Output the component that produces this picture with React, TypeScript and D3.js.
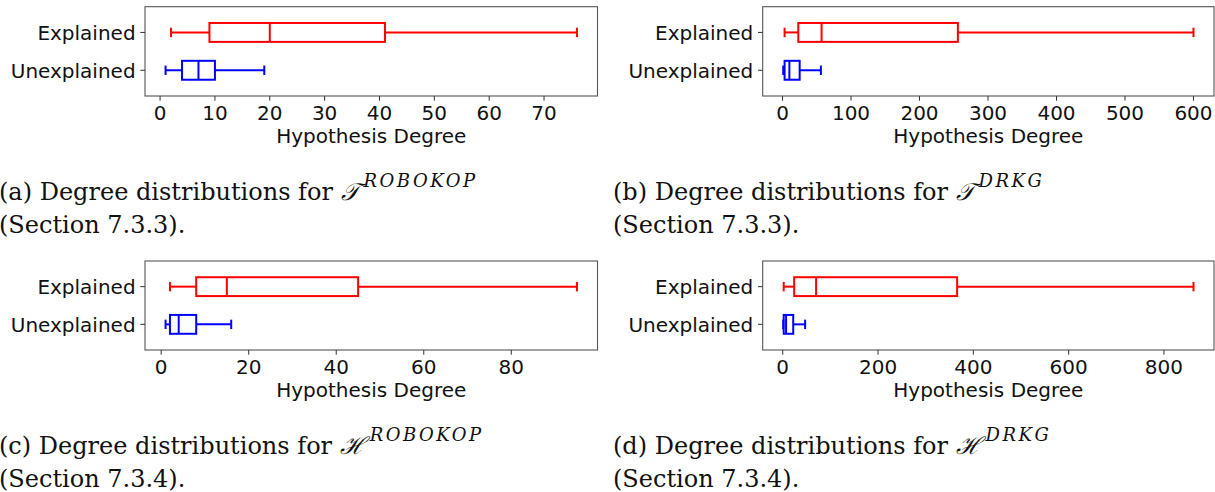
import React from "react";
import * as d3 from "d3";

// Five-number summaries per group: [lower whisker, Q1, median, Q3, upper whisker]
const groups = ["Explained", "Unexplained"];

const triplesRobokopExplained = [2, 9, 20, 41, 76];
const triplesRobokopUnexplained = [1, 4, 7, 10, 19];
const triplesDrkgExplained = [3, 23, 57, 256, 600];
const triplesDrkgUnexplained = [1, 3, 10, 25, 56];
const hypRobokopExplained = [2, 8, 15, 45, 95];
const hypRobokopUnexplained = [1, 2, 4, 8, 16];
const hypDrkgExplained = [2, 24, 70, 366, 862];
const hypDrkgUnexplained = [1, 2, 7, 22, 47];

const ticksA = [0, 10, 20, 30, 40, 50, 60, 70];
const ticksB = [0, 100, 200, 300, 400, 500, 600];
const ticksC = [0, 20, 40, 60, 80];
const ticksD = [0, 200, 400, 600, 800];

const xLabel = "Hypothesis Degree";

type PanelSpec = {
  left: number;
  right: number;
  top: number;
  bottom: number;
  explained: number[];
  unexplained: number[];
  ticks: number[];
};

const W = 1215;
const H = 492;
const sans = "'DejaVu Sans', sans-serif";
const serif = "'DejaVu Serif', serif";

function BoxPanel({ left, right, top, bottom, explained, unexplained, ticks }: PanelSpec) {
  const lo = d3.min([explained[0], unexplained[0]]) as number;
  const hi = d3.max([explained[4], unexplained[4]]) as number;
  const pad = (hi - lo) * 0.05;
  const x = d3.scaleLinear().domain([lo - pad, hi + pad]).range([left, right]);
  const y = d3.scaleLinear().domain([0.32, 2.68]).range([bottom, top]);
  const half = 0.25;
  const capHalf = 0.125;
  const rows = [
    { name: groups[0], pos: 2, s: explained, color: "#ff0000" },
    { name: groups[1], pos: 1, s: unexplained, color: "#0000ff" },
  ];
  const tickLen = 4.7;
  return (
    <g>
      {rows.map((r) => {
        const [wl, q1, med, q3, wh] = r.s;
        const yc = y(r.pos);
        const yt = y(r.pos + half);
        const yb = y(r.pos - half);
        const ct = y(r.pos + capHalf);
        const cb = y(r.pos - capHalf);
        return (
          <g key={r.name} stroke={r.color} strokeWidth={2} fill="none">
            <line x1={x(wl)} x2={x(q1)} y1={yc} y2={yc} />
            <line x1={x(q3)} x2={x(wh)} y1={yc} y2={yc} />
            <line x1={x(wl)} x2={x(wl)} y1={ct} y2={cb} />
            <line x1={x(wh)} x2={x(wh)} y1={ct} y2={cb} />
            <rect x={x(q1)} y={yt} width={x(q3) - x(q1)} height={yb - yt} />
            <line x1={x(med)} x2={x(med)} y1={yt} y2={yb} />
          </g>
        );
      })}
      <rect
        x={left}
        y={top}
        width={right - left}
        height={bottom - top}
        fill="none"
        stroke="#555"
        strokeWidth={1.1}
      />
      {ticks.map((t) => (
        <g key={t}>
          <line x1={x(t)} x2={x(t)} y1={bottom} y2={bottom + tickLen} stroke="#333" strokeWidth={1} />
          <text
            x={x(t)}
            y={bottom + 23.5}
            textAnchor="middle"
            fontFamily={sans}
            fontSize={20}
            fill="#111"
          >
            {t}
          </text>
        </g>
      ))}
      {rows.map((r) => (
        <g key={r.name + "-lab"}>
          <line
            x1={left - tickLen}
            x2={left}
            y1={y(r.pos)}
            y2={y(r.pos)}
            stroke="#333"
            strokeWidth={1}
          />
          <text
            x={left - tickLen - 4.7}
            y={y(r.pos) + 7.3}
            textAnchor="end"
            fontFamily={sans}
            fontSize={20}
            fill="#111"
          >
            {r.name}
          </text>
        </g>
      ))}
      <text
        x={(left + right) / 2}
        y={bottom + 47}
        textAnchor="middle"
        fontFamily={sans}
        fontSize={20}
        fill="#111"
      >
        {xLabel}
      </text>
    </g>
  );
}

function Caption({
  x,
  y,
  tag,
  symbol,
  sup,
  section,
}: {
  x: number;
  y: number;
  tag: string;
  symbol: string;
  sup: string;
  section: string;
}) {
  return (
    <g fontFamily={serif} fontSize={24} fill="#111">
      <text x={x} y={y}>
        {`(${tag}) Degree distributions for `}
        <tspan fontStyle="italic">{symbol}</tspan>
        <tspan dx={5} dy={-13} fontSize={18} fontStyle="italic" letterSpacing={2.5}>
          {sup}
        </tspan>
      </text>
      <text x={x} y={y + 33}>{`(Section ${section}).`}</text>
    </g>
  );
}

export default function App() {
  const colL = { left: 145, right: 597.5 };
  const colR = { left: 762.7, right: 1214 };
  const rowT = { top: 6.7, bottom: 96 };
  const rowB = { top: 261, bottom: 350 };
  return (
    <svg
      width={W}
      height={H}
      viewBox={`0 0 ${W} ${H}`}
      style={{ position: "absolute", left: 0, top: 0, background: "#fff" }}
    >
      <rect width={W} height={H} fill="#fff" />
      <BoxPanel {...colL} {...rowT} explained={triplesRobokopExplained} unexplained={triplesRobokopUnexplained} ticks={ticksA} />
      <BoxPanel {...colR} {...rowT} explained={triplesDrkgExplained} unexplained={triplesDrkgUnexplained} ticks={ticksB} />
      <BoxPanel {...colL} {...rowB} explained={hypRobokopExplained} unexplained={hypRobokopUnexplained} ticks={ticksC} />
      <BoxPanel {...colR} {...rowB} explained={hypDrkgExplained} unexplained={hypDrkgUnexplained} ticks={ticksD} />
      <Caption x={-1} y={200} tag="a" symbol="𝒯" sup="ROBOKOP" section="7.3.3" />
      <Caption x={613} y={200} tag="b" symbol="𝒯" sup="DRKG" section="7.3.3" />
      <Caption x={-1} y={454} tag="c" symbol="ℋ" sup="ROBOKOP" section="7.3.4" />
      <Caption x={613} y={454} tag="d" symbol="ℋ" sup="DRKG" section="7.3.4" />
    </svg>
  );
}
